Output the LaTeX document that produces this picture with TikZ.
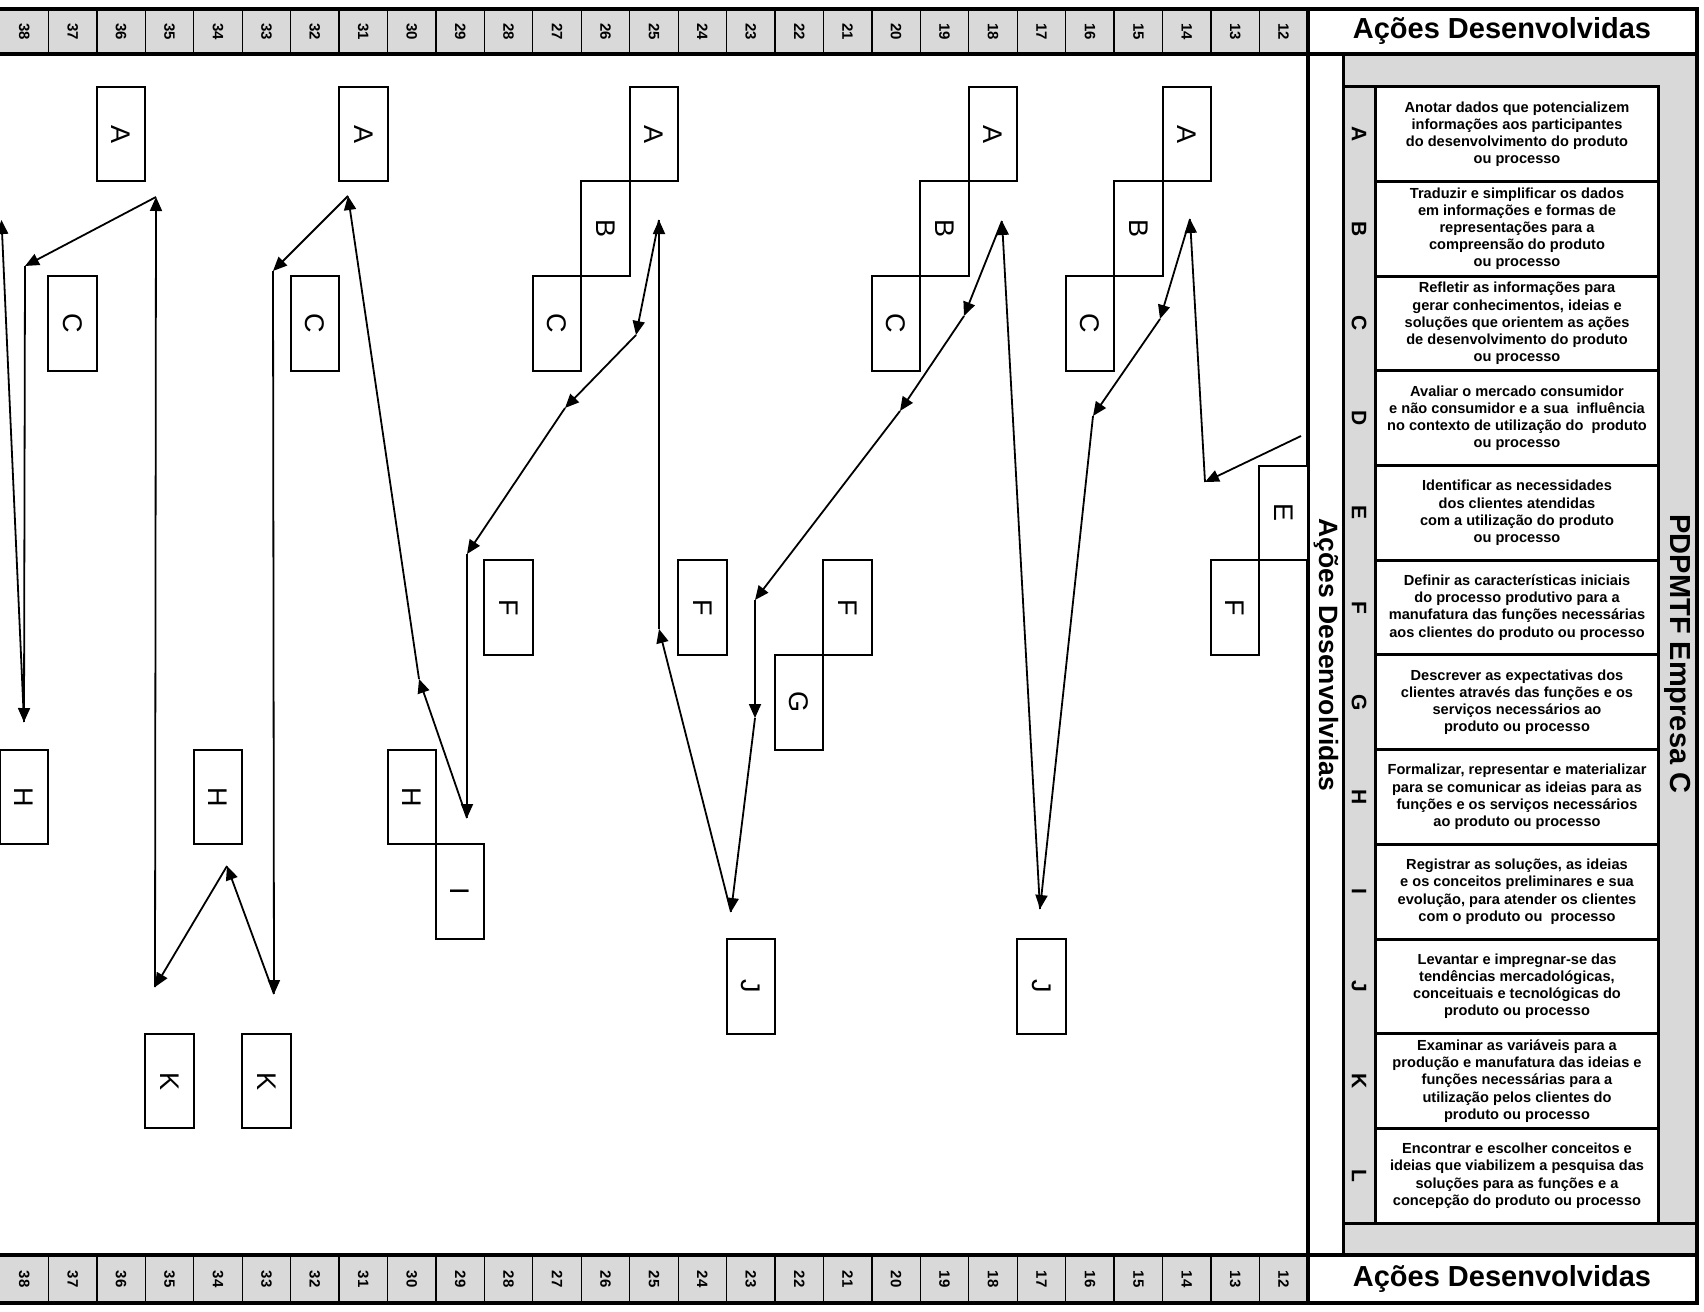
\documentclass[tikz,border=0pt]{standalone}
\usepackage{fontspec}
\setmainfont{Liberation Sans}
\usepackage{graphicx}
\usetikzlibrary{arrows.meta}
\definecolor{panelgray}{RGB}{217,217,217}
\tikzset{
  lbox/.style={draw=black, line width=2pt, fill=white, minimum width=48.44pt, minimum height=94.7pt, inner sep=0pt, font=\fontsize{27}{27}\selectfont},
  conn/.style={draw=black, line width=1.8pt, -{Triangle[length=14pt,width=12pt]}},
  numlab/.style={inner sep=0pt, font=\bfseries\fontsize{15}{15}\selectfont},
  rowlab/.style={inner sep=0pt, font=\bfseries\fontsize{21}{21}\selectfont},
  rowtext/.style={inner sep=0pt, align=center, font=\bfseries\fontsize{14.6}{17.2}\selectfont},
  bigtitle/.style={inner sep=0pt, font=\bfseries\fontsize{29}{29}\selectfont},
  sidetitle/.style={inner sep=0pt, font=\bfseries\fontsize{26.5}{26.5}\selectfont},
  thickline/.style={line width=4pt, line cap=rect},
  medline/.style={line width=3pt, line cap=rect},
  thinline/.style={line width=1.3pt},
}
\newcommand\actbox[4]{\node[lbox] (#1) at ({(38-#2)*48.44+24.22},{86.7+94.7*#3+47.35}) {\rotatebox{-90}{#4}};}
\newcommand\rowentry[3]{%
  \node[rowlab] (l#1) at (1359,{86.7+94.7*#2+47.35}) {\rotatebox{-90}{#1}};
  \node[rowtext] (t#1) at (1517,{86.7+94.7*#2+47.35}) {#3};}

\begin{document}
\begin{tikzpicture}[x=1pt,y=-1pt]
\useasboundingbox (0,0) rectangle (1704,1311);
\fill[white] (0,0) rectangle (1704,1311);
% number bands
\fill[panelgray] (0,9) rectangle (1308,54);
\fill[panelgray] (0,1255) rectangle (1308,1303);
\foreach \k in {1,...,26} {
  \draw[thinline] ({\k*48.44},9) -- ({\k*48.44},54);
  \draw[thinline] ({\k*48.44},1255) -- ({\k*48.44},1303);
}
\foreach \k in {0,...,26} {
  \pgfmathtruncatemacro\n{38-\k}
  \node[numlab] (top\n) at ({\k*48.44+24.22},31.5) {\rotatebox{-90}{\n}};
  \node[numlab] (bot\n) at ({\k*48.44+24.22},1279) {\rotatebox{-90}{\n}};
}
% right panel
\fill[panelgray] (1343,54) rectangle (1697,1255);
\fill[white] (1375,86.7) rectangle (1658.7,1223);
\foreach \r in {1,...,11} \draw[medline] (1375,{86.7+94.7*\r}) -- (1658.7,{86.7+94.7*\r});
\draw[medline] (1343,86.7) -- (1658.7,86.7);
\draw[medline] (1343,1223) -- (1697,1223);
\draw[medline] (1375,86.7) -- (1375,1223);
\draw[medline] (1658.7,86.7) -- (1658.7,1223);
% frame
\draw[thickline] (0,9) -- (1697,9);
\draw[thickline] (0,54) -- (1697,54);
\draw[thickline] (0,1255) -- (1697,1255);
\draw[thickline] (0,1303) -- (1697,1303);
\draw[thickline] (1308,9) -- (1308,1303);
\draw[medline] (1343,54) -- (1343,1255);
\draw[thickline] (1697,9) -- (1697,1303);
% titles
\node[bigtitle] (htop) at (1502,31.5) {Ações Desenvolvidas};
\node[bigtitle] (hbot) at (1502,1279) {Ações Desenvolvidas};
\node[sidetitle] (vside) at (1326,655) {\rotatebox{-90}{Ações Desenvolvidas}};
\node[bigtitle] (vemp) at (1678,654) {\rotatebox{-90}{PDPMTF Empresa C}};
% rows
\rowentry{A}{0}{Anotar dados que potencializem\\informações aos participantes\\do desenvolvimento do produto\\ou processo}
\rowentry{B}{1}{Traduzir e simplificar os dados\\em informações e formas de\\representações para a\\compreensão do produto\\ou processo}
\rowentry{C}{2}{Refletir as informações para\\gerar conhecimentos, ideias e\\soluções que orientem as ações\\de desenvolvimento do produto\\ou processo}
\rowentry{D}{3}{Avaliar o mercado consumidor\\e não consumidor e a sua\ \ influência\\no contexto de utilização do\ \ produto\\ou processo}
\rowentry{E}{4}{Identificar as necessidades\\dos clientes atendidas\\com a utilização do produto\\ou processo}
\rowentry{F}{5}{Definir as características iniciais\\do processo produtivo para a\\manufatura das funções necessárias\\aos clientes do produto ou processo}
\rowentry{G}{6}{Descrever as expectativas dos\\clientes através das funções e os\\serviços necessários ao\\produto ou processo}
\rowentry{H}{7}{Formalizar, representar e materializar\\para se comunicar as ideias para as\\funções e os serviços necessários\\ao produto ou processo}
\rowentry{I}{8}{Registrar as soluções, as ideias\\e os conceitos preliminares e sua\\evolução, para atender os clientes\\com o produto ou\ \ processo}
\rowentry{J}{9}{Levantar e impregnar-se das\\tendências mercadológicas,\\conceituais e tecnológicas do\\produto ou processo}
\rowentry{K}{10}{Examinar as variáveis para a\\produção e manufatura das ideias e\\funções necessárias para a\\utilização pelos clientes do\\produto ou processo}
\rowentry{L}{11}{Encontrar e escolher conceitos e\\ideias que viabilizem a pesquisa das\\soluções para as funções e a\\concepção do produto ou processo}
% activity boxes
\actbox{a36}{36}{0}{A}
\actbox{c37}{37}{2}{C}
\actbox{h38}{38}{7}{H}
\actbox{h34}{34}{7}{H}
\actbox{k35}{35}{10}{K}
\actbox{k33}{33}{10}{K}
\actbox{a31}{31}{0}{A}
\actbox{c32}{32}{2}{C}
\actbox{h30}{30}{7}{H}
\actbox{i29}{29}{8}{I}
\actbox{f28}{28}{5}{F}
\actbox{c27}{27}{2}{C}
\actbox{b26}{26}{1}{B}
\actbox{a25}{25}{0}{A}
\actbox{f24}{24}{5}{F}
\actbox{j23}{23}{9}{J}
\actbox{g22}{22}{6}{G}
\actbox{f21}{21}{5}{F}
\actbox{c20}{20}{2}{C}
\actbox{b19}{19}{1}{B}
\actbox{a18}{18}{0}{A}
\actbox{j17}{17}{9}{J}
\actbox{c16}{16}{2}{C}
\actbox{b15}{15}{1}{B}
\actbox{a14}{14}{0}{A}
\actbox{f13}{13}{5}{F}
\actbox{e12}{12}{4}{E}
% path points
\coordinate (p0) at (1301,436);
\coordinate (p1) at (1205,482);
\coordinate (p2) at (1190,219);
\coordinate (p3) at (1160,319);
\coordinate (p4) at (1093,416);
\coordinate (p5) at (1040,909);
\coordinate (p6) at (1002,221);
\coordinate (p7) at (964,316);
\coordinate (p8) at (900,411);
\coordinate (p9) at (755,600);
\coordinate (p10) at (755,718);
\coordinate (p11) at (731,912);
\coordinate (p12) at (659,629);
\coordinate (p13) at (659,220);
\coordinate (p14) at (636,335);
\coordinate (p15) at (565,408);
\coordinate (p16) at (467,554);
\coordinate (p17) at (467,818);
\coordinate (p18) at (419,679);
\coordinate (p19) at (348,196);
\coordinate (p20) at (273,271);
\coordinate (p21) at (274,994);
\coordinate (p22) at (227,866);
\coordinate (p23) at (155,987);
\coordinate (p24) at (156,197);
\coordinate (p25) at (25,266);
\coordinate (p26) at (24,722);
\coordinate (p27) at (1.5,220);
\foreach \i [evaluate=\i as \j using int(\i+1)] in {0,...,26}
  \draw[conn] (p\i) -- (p\j);
\end{tikzpicture}
\end{document}
